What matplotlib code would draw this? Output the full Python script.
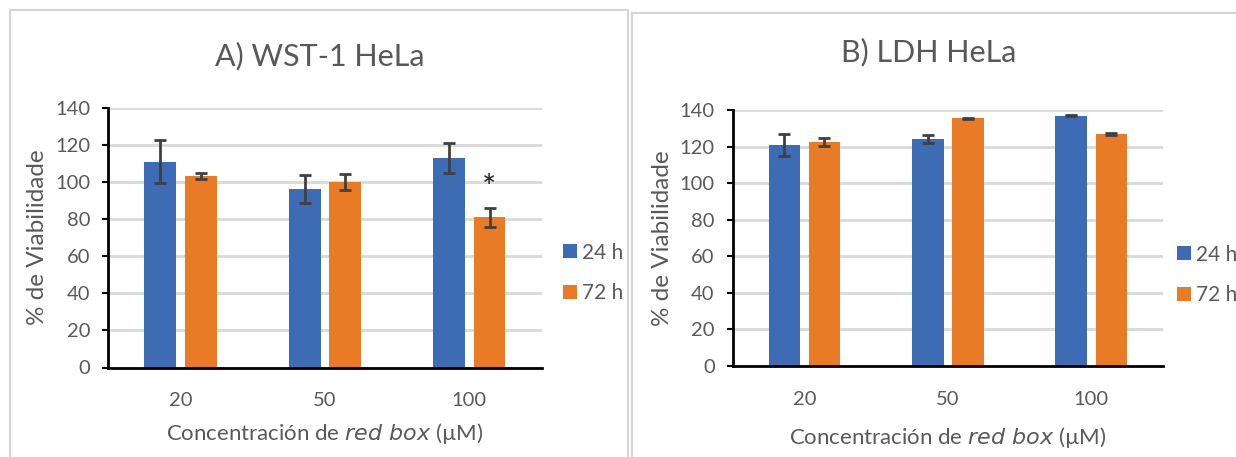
import matplotlib
matplotlib.use("Agg")
import matplotlib.pyplot as plt
from matplotlib.patches import Rectangle

# Data: cell viability (%) after exposure to red box
concentrations = ["20", "50", "100"]
series_labels = ["24 h", "72 h"]

wst1_24h = [111.0, 96.2, 113.1]
wst1_24h_err = [11.5, 7.5, 8.1]
wst1_72h = [103.3, 99.8, 80.9]
wst1_72h_err = [1.7, 4.3, 5.3]

ldh_24h = [120.7, 124.0, 136.9]
ldh_24h_err = [6.1, 2.3, 0.3]
ldh_72h = [122.6, 135.4, 127.0]
ldh_72h_err = [2.3, 0.3, 0.5]

yticks = [0, 20, 40, 60, 80, 100, 120, 140]

BLUE = "#3E6CB4"
ORANGE = "#E97A26"
TEXT = "#595959"
GRID = "#D9D9D9"
FONT = ["Lato", "DejaVu Sans"]

W, H = 1236, 457
fig = plt.figure(figsize=(W / 100, H / 100), dpi=100)
fig.patch.set_facecolor("white")

# Panel frames
for (x0, y0, x1) in [(10, 10, 628), (632, 13, 1240)]:
    fig.add_artist(Rectangle((x0 / W, 1 - 470 / H), (x1 - x0) / W, (470 - y0) / H,
                             transform=fig.transFigure, fill=False,
                             edgecolor="#D4D4D4", linewidth=1.5, zorder=0))


def panel(rect, title, title_xy, v24, e24, v72, e72, xlabel_y, legend_x, legend_y):
    left, top, right, bottom = rect
    ax = fig.add_axes([left / W, 1 - bottom / H, (right - left) / W, (bottom - top) / H])
    x = list(range(len(concentrations)))
    off, bw = 0.14, 0.22
    ekw = dict(ecolor="#404040", elinewidth=2.0, capsize=4.3, capthick=2.0)
    b1 = ax.bar([i - off for i in x], v24, bw, color=BLUE, yerr=e24, error_kw=ekw,
                zorder=3, label=series_labels[0])
    b2 = ax.bar([i + off for i in x], v72, bw, color=ORANGE, yerr=e72, error_kw=ekw,
                zorder=3, label=series_labels[1])
    ax.set_xlim(-0.5, 2.5)
    ax.set_ylim(0, 140)
    ax.set_yticks(yticks)
    ax.set_xticks(x)
    ax.set_xticklabels(concentrations)
    ax.yaxis.grid(True, color=GRID, linewidth=2.0, zorder=0)
    ax.set_axisbelow(True)
    for s in ["top", "right"]:
        ax.spines[s].set_visible(False)
    for s in ["left", "bottom"]:
        ax.spines[s].set_color("black")
        ax.spines[s].set_linewidth(2.0)
        ax.spines[s].set_zorder(4)
    ax.tick_params(axis="y", length=4, width=1.5, color="black", pad=9,
                   labelsize=14.5, labelcolor=TEXT)
    ax.tick_params(axis="x", length=0, pad=18, labelsize=14.5, labelcolor=TEXT)
    for lab in ax.get_xticklabels() + ax.get_yticklabels():
        lab.set_family(FONT)
    ax.set_ylabel("% de Viabilidade", fontsize=17.5, color=TEXT, family=FONT, labelpad=5)
    fig.text(((left + right) / 2) / W, 1 - xlabel_y / H,
             "Concentración de $\\it{red\\ box}$ (µM)", ha="center", va="center",
             fontsize=16, color=TEXT, family=FONT)
    fig.text(title_xy[0] / W, 1 - title_xy[1] / H, title, ha="center", va="center",
             fontsize=22, color=TEXT, family=FONT)
    leg = ax.legend(handles=[b1, b2], loc="center left",
                    bbox_to_anchor=(legend_x / W, 1 - legend_y / H),
                    bbox_transform=fig.transFigure, frameon=False,
                    borderpad=0, borderaxespad=0,
                    handlelength=0.65, handleheight=0.65, handletextpad=0.25,
                    labelspacing=1.0, prop={"family": FONT, "size": 15})
    for t in leg.get_texts():
        t.set_color(TEXT)
    return ax


axA = panel((108.3, 107.7, 541.5, 367.5), "A) WST-1 HeLa", (320, 56),
            wst1_24h, wst1_24h_err, wst1_72h, wst1_72h_err, 434, 563, 273)
# Significance mark over the 100 µM / 72 h bar
axA.text(2 + 0.14, wst1_72h[2] + wst1_72h_err[2] + 10, "*", ha="center", va="center",
         fontsize=24, color="#222222", family=FONT)

axB = panel((732.7, 110, 1163, 365.7), "B) LDH HeLa", (929, 52),
            ldh_24h, ldh_24h_err, ldh_72h, ldh_72h_err, 438, 1177, 275)

fig.savefig("out.png", dpi=100, facecolor="white")
